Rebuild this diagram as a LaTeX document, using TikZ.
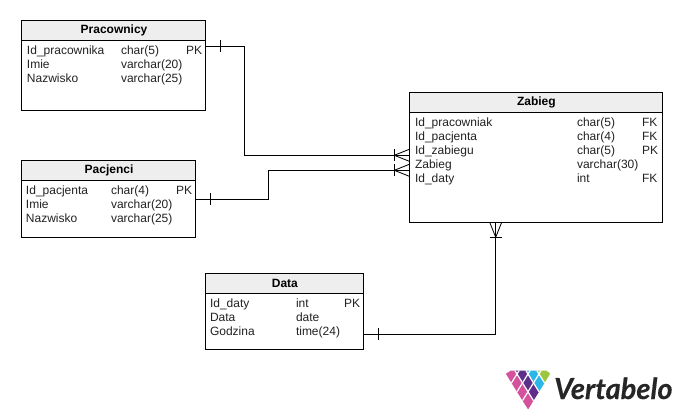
\documentclass[tikz,border=0pt]{standalone}
\usepackage{fontspec}
\setmainfont{Liberation Sans}
\newfontfamily\logofont{Lato}
\definecolor{headfill}{HTML}{EEEEEE}
\definecolor{txt}{HTML}{222222}
\definecolor{lgpink}{HTML}{D4519B}
\definecolor{lgpurple}{HTML}{5F2D8C}
\definecolor{lgblue}{HTML}{2BB6E8}
\definecolor{lggreen}{HTML}{9CC63F}
\tikzset{
  x=1pt,y=-1pt,
  tablebox/.style={draw=black,line width=1pt,fill=white,anchor=north west,inner sep=0pt,outer sep=0pt},
  headbox/.style={draw=black,line width=1pt,fill=headfill,anchor=north west,inner sep=0pt,outer sep=0pt,font=\fontsize{12}{14}\selectfont\bfseries,text=black},
  cell/.style={anchor=base west,inner sep=0pt,outer sep=0pt,font=\fontsize{12}{14}\selectfont,text=txt},
  rel/.style={draw=black,line width=1pt},
  relmark/.style={draw=black,line width=0.8pt}
}
\newcommand{\tbl}[6]{% name, x, y, w, h, title
  \node[tablebox,minimum width=#4pt,minimum height=#5pt] (#1) at (#2,#3) {};
  \node[headbox,minimum width=#4pt,minimum height=20pt] (#1h) at (#2,#3) {\raisebox{-1pt}{\hspace{1.5pt}#6}};
}
\begin{document}
\begin{tikzpicture}
\useasboundingbox (0,0) rectangle (681,420);
\fill[white] (0,0) rectangle (681,420);
\tbl{prac}{21.3}{20.6}{184}{90.4}{Pracownicy}
\tbl{pacj}{21.3}{160.3}{174}{77}{Pacjenci}
\tbl{zab}{409.3}{92.3}{252.7}{130}{Zabieg}
\tbl{dat}{205}{273.3}{158.3}{76}{Data}
% Pracownicy rows
\foreach \y/\a/\b/\c in {54.5/Id\_pracownika/char(5)/PK,68.5/Imie/varchar(20)/,82.5/Nazwisko/varchar(25)/}{
  \node[cell] at (27,\y) {\a};
  \node[cell] at (121,\y) {\b};
  \node[cell] at (186,\y) {\c};
}
% Pacjenci rows
\foreach \y/\a/\b/\c in {194.5/Id\_pacjenta/char(4)/PK,208.5/Imie/varchar(20)/,222.5/Nazwisko/varchar(25)/}{
  \node[cell] at (26,\y) {\a};
  \node[cell] at (111,\y) {\b};
  \node[cell] at (176,\y) {\c};
}
% Zabieg rows
\foreach \y/\a/\b/\c in {126.5/Id\_pracowniak/char(5)/FK,140.5/Id\_pacjenta/char(4)/FK,154.5/Id\_zabiegu/char(5)/PK,168.5/Zabieg/varchar(30)/,182.5/Id\_daty/int/FK}{
  \node[cell] at (415,\y) {\a};
  \node[cell] at (577,\y) {\b};
  \node[cell] at (642,\y) {\c};
}
% Data rows
\foreach \y/\a/\b/\c in {307.5/Id\_daty/int/PK,321.5/Data/date/,335.5/Godzina/time(24)/}{
  \node[cell] at (210,\y) {\a};
  \node[cell] at (296,\y) {\b};
  \node[cell] at (344,\y) {\c};
}
% connectors
\coordinate (s1) at ([yshift=-25.7pt]prac.north east);
\coordinate (e1) at ([yshift=-63pt]zab.north west);
\coordinate (s2) at ([yshift=-39pt]pacj.north east);
\coordinate (e2) at ([yshift=-78pt]zab.north west);
\coordinate (s3) at ([yshift=-61pt]dat.north east);
\coordinate (e3) at (495.7,222.3);
\draw[rel] (s1) -- (244.3,46.3) -- (244.3,155.3) -- (e1);
\draw[rel] (s2) -- (268.3,199.3) -- (268.3,170.3) -- (e2);
\draw[rel] (s3) -- (495.7,334.3) -- (e3);
% one marks
\draw[relmark] (220.3,40.3) -- (220.3,52.3);
\draw[relmark] (210.3,193.3) -- (210.3,205.3);
\draw[relmark] (378.3,328.3) -- (378.3,340.3);
% crow feet
\draw[relmark] (394.3,149.3) -- (394.3,161.3);
\draw[relmark] (409.3,149.3) -- (394.3,155.3) -- (409.3,161.3);
\draw[relmark] (394.3,164.3) -- (394.3,176.3);
\draw[relmark] (409.3,164.3) -- (394.3,170.3) -- (409.3,176.3);
\draw[relmark] (489.7,237.3) -- (501.7,237.3);
\draw[relmark] (489.7,222.3) -- (495.7,237.3) -- (501.7,222.3);
% logo
\begin{scope}
\clip (505.5,374) -- (511,370.5) -- (546,370.5) -- (551,374) -- (528.3,409.7) -- cycle;
\foreach \j/\col in {0/lgpink,1/lgpurple,2/lgblue,3/lggreen}{
  \fill[\col] ({506+5.5*\j},{374-8.9*\j}) -- ++(22,35.6) -- ++(5.5,-8.9) -- ++(-22,-35.6) -- cycle;
}
\foreach \j in {1,2,3}{
  \draw[white,line width=1.2pt] ({506+5.5*\j},{374-8.9*\j}) -- ++(22,35.6);
}
\foreach \i in {1,2,3}{
  \draw[white,line width=1.2pt] ({506+5.5*\i},{374+8.9*\i}) -- ++(22,-35.6);
}
\end{scope}
\node[anchor=base west,inner sep=0pt,font=\logofont\fontsize{29}{30}\selectfont\bfseries\itshape\addfontfeature{FakeBold=0.4},text=black!85] (logo) at (554,399) {Vertabelo};
\end{tikzpicture}
\end{document}
